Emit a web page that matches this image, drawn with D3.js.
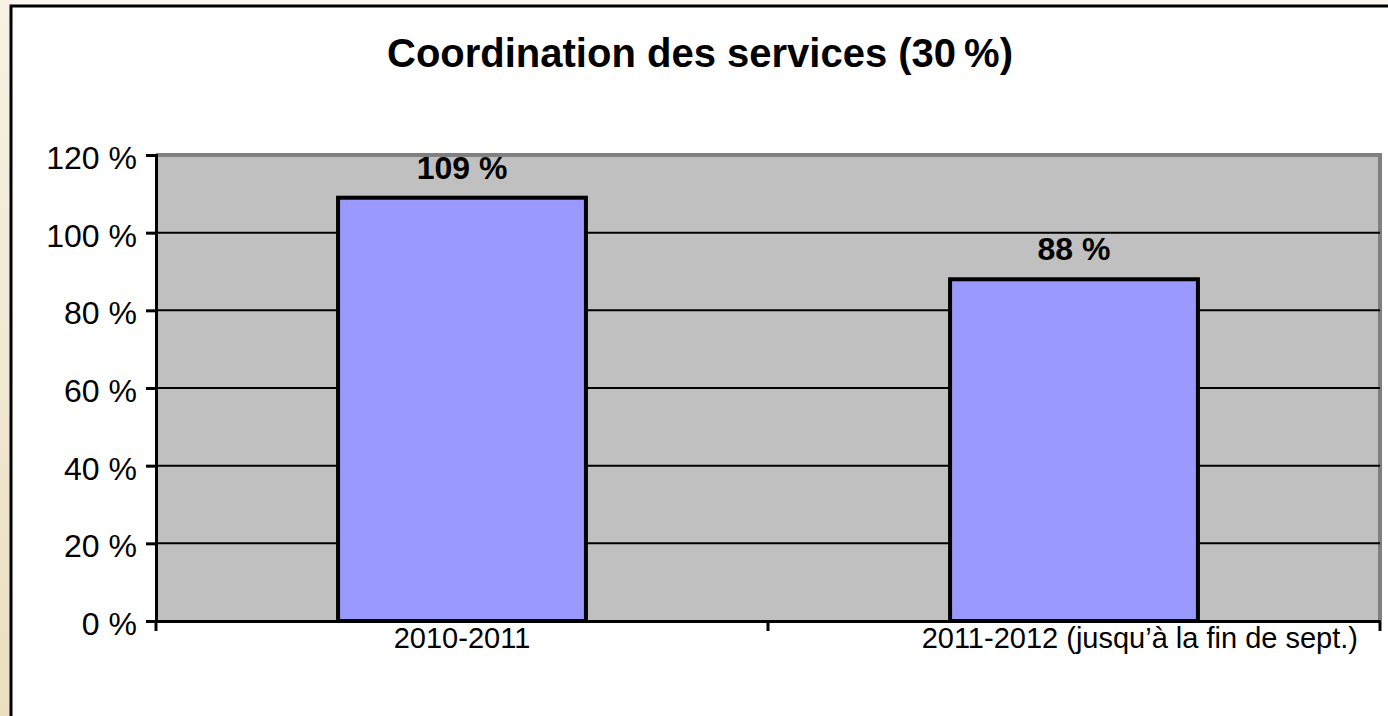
<!DOCTYPE html>
<html>
<head>
<meta charset="utf-8">
<script src="https://cdn.jsdelivr.net/npm/d3@7"></script>
<style>
  body { margin: 0; background: #fbf7ee; }
  svg { display: block; font-family: "Liberation Sans", Arial, sans-serif; }
</style>
</head>
<body>
<div class="chart"></div>
<script>
// data
const categories = ['2010-2011', '2011-2012 (jusqu\u2019à la fin de sept.)']
const values = [109, 88]
const yTicks = [0, 20, 40, 60, 80, 100, 120]
const title = 'Coordination des services (30\u202f%)'

const W = 1388, H = 716
const plot = { left: 156, right: 1380, top: 155, bottom: 621 }
const font = '"Liberation Sans", Arial, sans-serif'

const svg = d3.select('.chart')
    .append('svg')
    .attr('width', W)
    .attr('height', H)

// beige page strip on the left
const grad = svg.append('defs').append('linearGradient')
    .attr('id', 'beige').attr('x1', 0).attr('x2', 0).attr('y1', 0).attr('y2', 1)
grad.append('stop').attr('offset', '0%').attr('stop-color', '#f8f2e4')
grad.append('stop').attr('offset', '100%').attr('stop-color', '#ebdfc0')
svg.append('rect').attr('x', 0).attr('y', 0).attr('width', 12).attr('height', H).style('fill', 'url(#beige)')

// chart area
svg.append('rect')
    .attr('x', 11).attr('y', 6)
    .attr('width', W + 10).attr('height', H + 10)
    .style('fill', '#fff')
    .style('stroke', '#000')
    .style('stroke-width', 3)

svg.append('text')
    .attr('x', 700).attr('y', 67)
    .attr('text-anchor', 'middle')
    .style('font-size', '40px')
    .style('font-weight', 'bold')
    .text(title)

const x = d3.scaleBand()
    .domain(categories)
    .range([plot.left, plot.right])
    .paddingInner(0)
    .paddingOuter(0)

const y = d3.scaleLinear()
    .domain([0, 120])
    .range([plot.bottom, plot.top])

// plot background
svg.append('rect')
    .attr('x', plot.left).attr('y', plot.top)
    .attr('width', plot.right - plot.left).attr('height', plot.bottom - plot.top)
    .style('fill', '#c0c0c0')

// top & right border (gray)
svg.append('path')
    .attr('d', `M${plot.left},${plot.top}H${plot.right}V${plot.bottom}`)
    .style('fill', 'none')
    .style('stroke', '#808080')
    .style('stroke-width', 4)

// gridlines
svg.selectAll('.grid')
    .data(yTicks.filter(d => d > 0 && d < 120))
    .enter().append('line')
    .attr('x1', plot.left).attr('x2', plot.right)
    .attr('y1', d => y(d)).attr('y2', d => y(d))
    .style('stroke', '#000')
    .style('stroke-width', 2)

// bars
const barW = x.bandwidth() * 0.405
svg.selectAll('.bar')
    .data(values)
    .enter().append('rect')
    .attr('x', (d, i) => x(categories[i]) + x.bandwidth() / 2 - barW / 2)
    .attr('y', d => y(d))
    .attr('width', barW)
    .attr('height', d => y(0) - y(d))
    .style('fill', '#9999ff')
    .style('stroke', '#000')
    .style('stroke-width', 4)

svg.selectAll('.lbl')
    .data(values)
    .enter().append('text')
    .attr('x', (d, i) => x(categories[i]) + x.bandwidth() / 2)
    .attr('y', d => y(d) - 19)
    .attr('text-anchor', 'middle')
    .style('font-size', '32px')
    .style('font-weight', 'bold')
    .text(d => d + ' %')

// y axis
const yAxis = svg.append('g')
    .attr('transform', `translate(${plot.left},0)`)
    .call(d3.axisLeft(y).tickValues(yTicks).tickSize(10).tickPadding(9).tickFormat(d => d + ' %'))
yAxis.select('.domain').style('stroke-width', 3)
yAxis.selectAll('line').style('stroke-width', 3)
yAxis.selectAll('text').attr('dy', '0.42em').style('font-size', '32px').style('fill', '#000').style('font-family', font)

// x axis
const xAxis = svg.append('g')
    .attr('transform', `translate(0,${plot.bottom})`)
    .call(d3.axisBottom(x).tickSize(0).tickPadding(6))
xAxis.select('.domain').style('stroke-width', 3)
xAxis.selectAll('text').style('font-size', '29px').style('fill', '#000').style('font-family', font)
// long label sits pushed towards the right edge as in the original
xAxis.selectAll('.tick').filter((d, i) => i === 1).select('text')
    .attr('text-anchor', 'end')
    .attr('x', function () { return plot.right - 22 - (x(categories[1]) + x.bandwidth() / 2) })

// category boundary ticks
svg.selectAll('.xt')
    .data([plot.left, x(categories[1]), plot.right])
    .enter().append('line')
    .attr('x1', d => d).attr('x2', d => d)
    .attr('y1', plot.bottom).attr('y2', plot.bottom + 10)
    .style('stroke', '#000')
    .style('stroke-width', 3)
</script>
</body>
</html>
